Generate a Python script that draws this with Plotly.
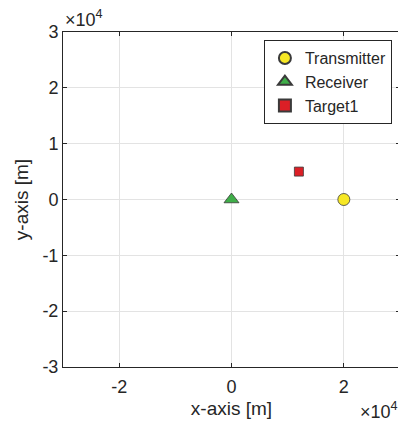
import plotly.graph_objects as go

names = ["Transmitter", "Receiver", "Target1"]
xs = [20000, 0, 12000]
ys = [0, 0, 5000]
symbols = ["circle", "triangle-up", "square"]
colors = ["#f7e825", "#3fae49", "#dc1f26"]
sizes = [12, 13, 9]

xticks = [-20000, 0, 20000]
xticktext = ["-2", "0", "2"]
yticks = [-30000, -20000, -10000, 0, 10000, 20000, 30000]
yticktext = ["-3", "-2", "-1", "0", "1", "2", "3"]

fig = go.Figure()
for n, x, y, s, c, sz in zip(names, xs, ys, symbols, colors, sizes):
    fig.add_trace(go.Scatter(x=[x], y=[y], mode="markers", name=n,
                             marker=dict(symbol=s, color=c, size=sz,
                                         line=dict(color="#3a3a3a", width=0.8))))

font = "Liberation Sans, Arial, sans-serif"
axis_common = dict(showgrid=True, gridcolor="#e3e3e3", zeroline=False,
                   showline=True, linecolor="#262626", linewidth=1, mirror="ticks",
                   ticks="inside", ticklen=4, tickcolor="#262626",
                   tickfont=dict(size=18, color="#262626", family=font))
# page body has an 8px default margin; compensate in figure size/margins
fig.update_layout(
    width=398, height=422,
    margin=dict(l=55, r=6, t=24, b=63),
    paper_bgcolor="white", plot_bgcolor="white",
    font=dict(family=font, color="#262626"),
    xaxis=dict(range=[-30000, 30000], tickvals=xticks, ticktext=xticktext,
               ticklabelstandoff=3,
               title=dict(text="x-axis [m]", font=dict(size=19), standoff=6), **axis_common),
    yaxis=dict(range=[-30000, 30000], tickvals=yticks, ticktext=yticktext,
               title=dict(text="y-axis [m]", font=dict(size=19), standoff=8), **axis_common),
    legend=dict(x=0.976, y=0.976, xanchor="right", yanchor="top",
                bgcolor="white", bordercolor="#262626", borderwidth=1,
                font=dict(size=16, color="#262626"), tracegroupgap=0,
                entrywidth=125, entrywidthmode="pixels",
                itemsizing="constant"),
    showlegend=True,
)
fig.add_annotation(text="×10<sup>4</sup>", xref="paper", yref="paper", x=0.0, y=1.0,
                   xanchor="left", yanchor="bottom", showarrow=False,
                   font=dict(size=18, color="#262626"))
fig.add_annotation(text="×10<sup>4</sup>", xref="paper", yref="paper", x=1.0, y=-0.09,
                   xanchor="right", yanchor="top", showarrow=False,
                   font=dict(size=18, color="#262626"))
fig.write_html("out.html")
